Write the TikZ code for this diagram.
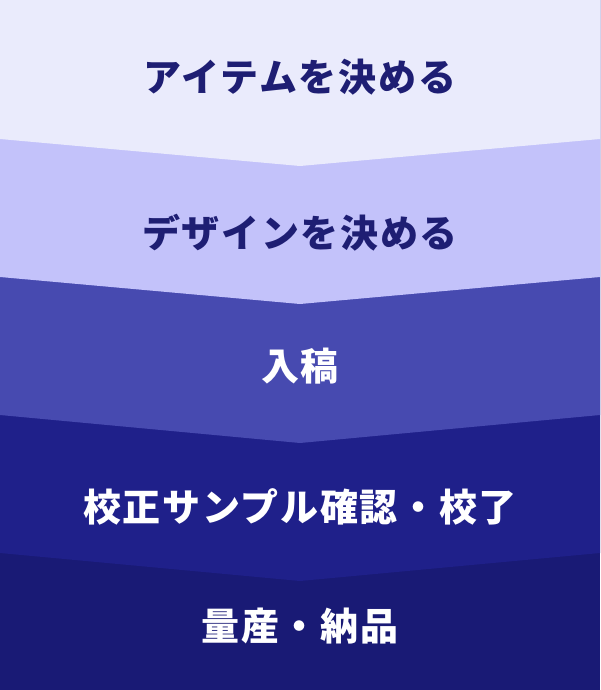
\documentclass[tikz,border=0pt]{standalone}
\usepackage{fontspec}
\newfontfamily\jpfont[LetterSpace=4.5]{Noto Sans CJK JP}
\definecolor{bandA}{HTML}{EAEBFC}
\definecolor{bandB}{HTML}{C3C2FA}
\definecolor{bandC}{HTML}{474AB0}
\definecolor{bandD}{HTML}{1F208A}
\definecolor{bandE}{HTML}{191A75}
\definecolor{navytext}{HTML}{1E1E73}

\begin{document}
\begin{tikzpicture}
[x=1pt, y=-1pt, every node/.style={inner sep=0pt, font=\jpfont\bfseries\fontsize{38}{42}\selectfont}]
\useasboundingbox (0,0) rectangle (600,690);
\fill [bandE] (0,0) rectangle (600,690);
\fill [bandD] (0,0) -- (600,0) -- (600,553) -- (300,581) -- (0,553) -- cycle;
\fill [bandC] (0,0) -- (600,0) -- (600,415) -- (300,443) -- (0,415) -- cycle;
\fill [bandB] (0,0) -- (600,0) -- (600,277) -- (300,304) -- (0,277) -- cycle;
\fill [bandA] (0,0) -- (600,0) -- (600,139) -- (300,166) -- (0,139) -- cycle;
\node (item) [text=navytext] at (300,77) {アイテムを決める};
\node (design) [text=navytext] at (300,233) {デザインを決める};
\node (nyuko) [text=white] at (300,366) {入稿};
\node (kosei) [text=white] at (300,507) {校正サンプル確認・校了};
\node (nohin) [text=white] at (300,626) {量産・納品};
\end{tikzpicture}
\end{document}
